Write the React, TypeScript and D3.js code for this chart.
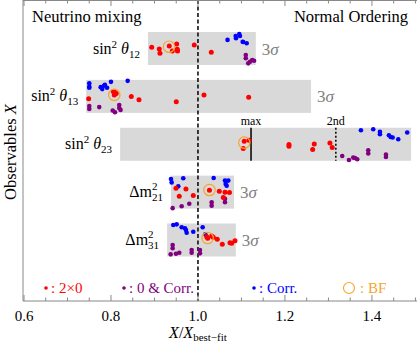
import React from 'react';
import * as d3 from 'd3';

// observables (rows, top to bottom)
const observables = ['s12', 's13', 's23', 'dm21', 'dm31'];

// 3 sigma ranges in X / X_best-fit
const sigmaLo = [0.885, 0.743, 0.821, 0.938, 0.929];
const sigmaHi = [1.133, 1.26, 1.49, 1.083, 1.087];

// best fit marker: [ratio, vertical jitter]
const bestFit: [number, number][] = [
  [0.9333, -0.11], [0.8076, -0.09], [1.1064, -0.1], [1.0264, -0.13], [1.0223, -0.12],
];

// theta23 octant markers
const theta23Max = 1.122;
const theta23Second = 1.317;

// points per row: [ratio, vertical jitter (-1..1 of the band)]
const twoZero: [number, number][][] = [
  [[0.8936, -0.07], [0.911, 0.03], [0.9126, 0.29], [0.934, -0.15], [0.941, 0.15], [0.951, -0.27], [0.9524, 0.05], [0.953, 0.15], [0.9915, -0.21], [1.0306, 0.23]],
  [[0.7487, 0.15], [0.8053, -0.29], [0.8092, -0.23], [0.8076, -0.09], [0.812, -0.18], [0.8467, 0.01], [0.8644, 0.21], [0.9501, 0.32], [1.0138, -0.09], [1.1166, 0.05]],
  [[1.1064, -0.18], [1.1172, -0.24], [1.1041, 0.26], [1.2092, 0.02], [1.2092, 0.12], [1.2674, -0.02], [1.2637, 0.32], [1.3034, -0.08], [1.3087, 0.2]],
  [[0.9494, -0.23], [0.9724, -0.19], [0.957, 0.25], [0.9892, 0.21], [1.0264, -0.12], [1.049, -0.05], [1.0621, 0.01], [1.0724, 0.03], [1.0582, 0.33]],
  [[1.02, -0.2], [1.0315, -0.24], [1.0352, -0.16], [1.0444, -0.04], [1.0559, 0.26], [1.0736, 0.16], [1.0775, 0.2], [1.0851, 0.04], [1.0223, -0.1]],
];

const zeroCorr: [number, number][][] = [
  [[1.11, 0.39], [1.11, 0.59], [1.1195, 0.8], [1.1248, 0.7], [1.129, 0.74], [1.1156, 0.9]],
  [[0.7501, 0.58], [0.7501, 0.76], [0.773, 0.65], [0.804, 0.86], [0.8092, 0.96], [0.819, 0.52], [0.819, 0.7], [0.822, 0.82]],
  [[1.3317, 0.71], [1.3471, 0.95], [1.357, 0.81], [1.361, 0.83], [1.3662, 0.91], [1.3915, 0.36], [1.3915, 0.56], [1.4322, 0.62], [1.4322, 0.77]],
  [[0.9418, 0.97], [0.9625, 0.86], [0.98, 0.7], [1.0315, 0.62], [1.0315, 0.82], [1.0621, 0.41], [1.0621, 0.61]],
  [[0.9418, 0.3], [0.9418, 0.5], [0.9372, 0.87], [0.9494, 0.83], [0.957, 0.77], [0.9855, 0.61], [0.9855, 0.77], [1.0046, 0.61], [1.0046, 0.81]],
];

const corr: [number, number][][] = [
  [[1.068, -0.52], [1.0867, -0.76], [1.0874, -0.62], [1.095, -0.88], [1.0966, -0.76], [1.1028, -0.41], [1.104, -0.39], [1.112, -0.32]],
  [[0.7501, -0.8], [0.7501, -0.59], [0.7501, -0.52], [0.7763, -0.56], [0.78, -0.44], [0.784, -0.64], [0.786, -0.7], [0.791, -0.52], [0.8, -0.88], [0.8384, -0.94]],
  [[1.3747, -0.85], [1.403, -0.91], [1.4184, -0.75], [1.4184, -0.61], [1.439, -0.55], [1.443, -0.44], [1.4476, -0.41], [1.4605, -0.3], [1.4811, -0.71]],
  [[0.9379, -0.8], [0.9395, -0.59], [0.9547, -0.35], [0.9662, -0.84], [1.0361, -0.86], [1.0621, -0.7], [1.0637, -0.5], [1.0697, -0.7], [1.066, -0.39]],
  [[0.9432, -0.91], [0.951, -0.95], [0.9625, -0.77], [0.9701, -0.71], [0.9724, -0.61], [0.974, -0.44], [0.9892, -0.5], [1.0108, -0.77], [1.0168, -0.35]],
];

const majorTicks = [0.6, 0.8, 1.0, 1.2, 1.4];

const RED = '#ff0000';
const PURPLE = '#800080';
const BLUE = '#0000ff';
const ORANGE = '#f7a52a';
const FONT = '"Liberation Serif", "DejaVu Serif", serif';

const width = 417, height = 348;
const frame = { left: 23, top: 0, right: 417, bottom: 301 };

const RowLabel = ({ name, x, y }: { name: string; x: number; y: number }) => {
  const sub = name.slice(-2);
  if (name.startsWith('s')) {
    return (
      <text x={x} y={y + 5} textAnchor="end" fontSize={16} fontFamily={FONT}>
        sin<tspan dy={-6} fontSize={11}>2</tspan>
        <tspan dy={6}>{' '}</tspan>
        <tspan fontStyle="italic">θ</tspan>
        <tspan dy={4} fontSize={11}>{sub}</tspan>
      </text>
    );
  }
  return (
    <text x={x} y={y + 5} textAnchor="end" fontSize={16} fontFamily={FONT}>
      Δm<tspan dy={-7} fontSize={11}>2</tspan>
      <tspan dx={-5.5} dy={11} fontSize={11}>{sub}</tspan>
    </text>
  );
};

export default function App() {
  const x = d3.scaleLinear().domain([0.5977, 1.5036]).range([frame.left, frame.right]);
  const y = d3.scalePoint<string>().domain(observables).range([48.5, 240]);
  const jitter = d3.scaleLinear().domain([-1, 1]).range([-16.5, 16.5]);
  const minorTicks = d3.range(0.6, 1.5001, 0.05);

  const dots = (series: [number, number][][], color: string, r: number) =>
    series.map((row, i) =>
      row.map(([v, j], k) => (
        <circle key={`${color}-${i}-${k}`} cx={x(v)} cy={(y(observables[i]) as number) + jitter(j)} r={r} fill={color} />
      ))
    );

  const y23 = y('s23') as number;

  return (
    <svg width={width} height={height} style={{ position: 'absolute', left: 0, top: 0 }} fontFamily={FONT}>
      {/* 3 sigma boxes */}
      {observables.map((o, i) => (
        <g key={o}>
          <rect x={x(sigmaLo[i])} y={(y(o) as number) - 16.5} width={x(sigmaHi[i]) - x(sigmaLo[i])} height={33} fill="#d9d9d9" />
          {x(sigmaHi[i]) + 30 < width && (
            <text x={x(sigmaHi[i]) + 6} y={(y(o) as number) + 6} fontSize={17} fill="#808080">
              3<tspan fontStyle="italic">σ</tspan>
            </text>
          )}
          <RowLabel name={o} x={x(sigmaLo[i]) - 8} y={y(o) as number} />
        </g>
      ))}

      {/* theta23 max / 2nd markers */}
      <line x1={x(theta23Max)} x2={x(theta23Max)} y1={y23 - 16.5} y2={y23 + 16.5} stroke="#000" strokeWidth={1.5} />
      <line x1={x(theta23Second)} x2={x(theta23Second)} y1={y23 - 16.5} y2={y23 + 16.5} stroke="#000" strokeWidth={1.5} strokeDasharray="2,2" />
      <text x={x(theta23Max)} y={y23 - 19} textAnchor="middle" fontSize={12}>max</text>
      <text x={x(theta23Second)} y={y23 - 19} textAnchor="middle" fontSize={12}>2nd</text>

      {/* best fit reference line */}
      <line x1={x(1)} x2={x(1)} y1={frame.top} y2={frame.bottom} stroke="#000" strokeWidth={1.5} strokeDasharray="4,2.5" />

      {dots(zeroCorr, PURPLE, 2.3)}
      {dots(corr, BLUE, 2.3)}
      {dots(twoZero, RED, 2.5)}
      {bestFit.map(([v, j], i) => (
        <circle key={`bf-${i}`} cx={x(v)} cy={(y(observables[i]) as number) + jitter(j)} r={5.7} fill="none" stroke={ORANGE} strokeWidth={1.2} />
      ))}

      {/* frame */}
      <line x1={frame.left} x2={frame.right} y1={frame.bottom} y2={frame.bottom} stroke="#888" />
      <line x1={frame.left} x2={frame.right} y1={frame.top + 0.5} y2={frame.top + 0.5} stroke="#888" />
      <line x1={frame.left} x2={frame.left} y1={frame.top} y2={frame.bottom} stroke="#888" />
      {minorTicks.map((t) => {
        const major = majorTicks.some((m) => Math.abs(m - t) < 1e-6);
        const len = major ? 6 : 3.5;
        return (
          <g key={t.toFixed(2)}>
            <line x1={x(t)} x2={x(t)} y1={frame.bottom} y2={frame.bottom - len} stroke="#888" />
            <line x1={x(t)} x2={x(t)} y1={frame.top} y2={frame.top + len} stroke="#888" />
          </g>
        );
      })}
      {majorTicks.map((t) => (
        <text key={t} x={x(t)} y={321} textAnchor="middle" fontSize={15}>{t.toFixed(1)}</text>
      ))}

      {/* titles */}
      <text x={x(1)} y={338} textAnchor="middle" fontSize={16}>
        <tspan fontStyle="italic">X</tspan>/<tspan fontStyle="italic">X</tspan>
        <tspan dy={3} fontSize={11}>best−fit</tspan>
      </text>
      <text transform={`translate(16,${152}) rotate(-90)`} textAnchor="middle" fontSize={16.5}>
        Observables <tspan fontStyle="italic">X</tspan>
      </text>
      <text x={32} y={22} fontSize={16.5}>Neutrino mixing</text>
      <text x={408} y={22} textAnchor="end" fontSize={16.5}>Normal Ordering</text>

      {/* legend */}
      <g fontSize={15}>
        <circle cx={46} cy={288} r={1.8} fill={RED} />
        <text x={51} y={293} fill={RED}>: 2×0</text>
        <circle cx={124} cy={288} r={1.8} fill={PURPLE} />
        <text x={129} y={293} fill={PURPLE}>: 0 &amp; Corr.</text>
        <circle cx={254} cy={288} r={1.8} fill={BLUE} />
        <text x={259} y={293} fill={BLUE}>: Corr.</text>
        <circle cx={349} cy={288} r={5.5} fill="none" stroke={ORANGE} strokeWidth={1.1} />
        <text x={360} y={293} fill={ORANGE}>: BF</text>
      </g>
    </svg>
  );
}
